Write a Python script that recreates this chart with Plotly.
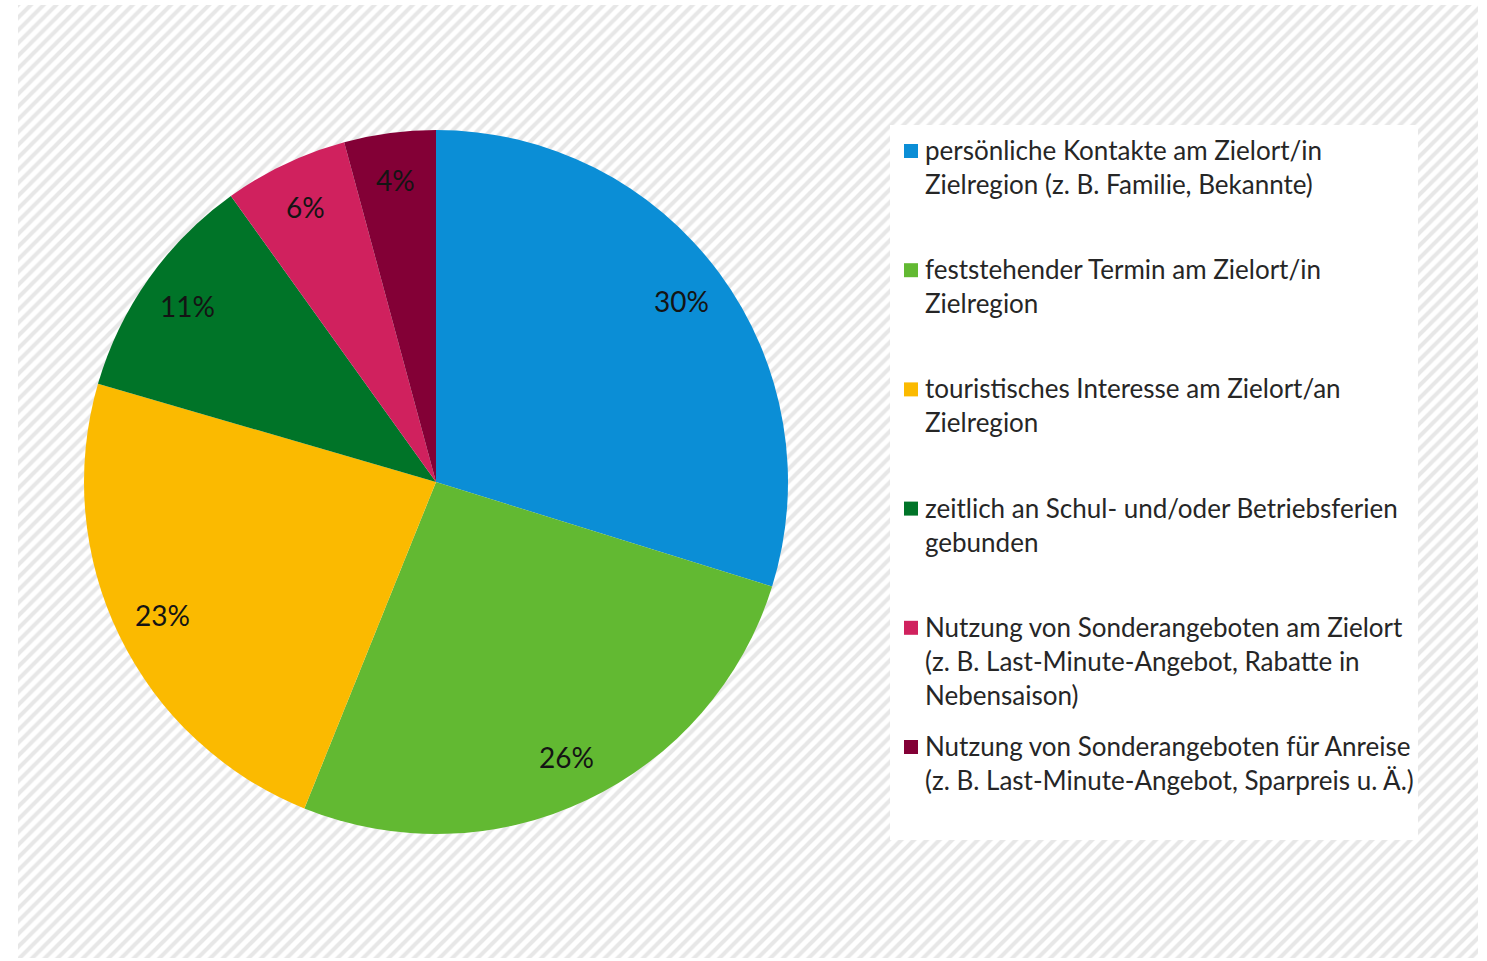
import math
import plotly.graph_objects as go

categories = [
    "persönliche Kontakte am Zielort/in<br>Zielregion (z. B. Familie, Bekannte)",
    "feststehender Termin am Zielort/in<br>Zielregion",
    "touristisches Interesse am Zielort/an<br>Zielregion",
    "zeitlich an Schul- und/oder Betriebsferien<br>gebunden",
    "Nutzung von Sonderangeboten am Zielort<br>(z. B. Last-Minute-Angebot, Rabatte in<br>Nebensaison)",
    "Nutzung von Sonderangeboten für Anreise<br>(z. B. Last-Minute-Angebot, Sparpreis u. Ä.)",
]
# shares (labels show them rounded)
values = [29.8, 26.3, 23.4, 10.6, 5.7, 4.2]
colors = ["#0B8ED6", "#62B932", "#FBBA00", "#007428", "#D0215E", "#830036"]

W, H = 1487, 961
L, R, T, B = 18, 1478, 5, 958  # hatched area in pixels
PW, PH = R - L, B - T

def px(x):
    return (x - L) / PW

def py(y):
    return (B - y) / PH

FONT = "Lato"

fig = go.Figure()

# hatched background
fig.add_trace(go.Bar(
    x=[0.5], y=[1], width=[1],
    marker=dict(color="white", line=dict(width=0),
                pattern=dict(shape="/", size=9, solidity=0.45,
                             fgcolor="#d0d0d0", bgcolor="white")),
    hoverinfo="skip", showlegend=False,
))

cx, cy, r = 436, 482, 352
fig.add_trace(go.Pie(
    labels=categories, values=values, sort=False, direction="clockwise", rotation=0,
    marker=dict(colors=colors, line=dict(width=0)),
    textinfo="none",
    domain=dict(x=[px(cx - r), px(cx + r)], y=[py(cy + r), py(cy - r)]),
    showlegend=False, hole=0, hoverinfo="label+percent",
))

annotations = []
# slice labels placed near the outer edge (Excel "best fit" style)
total = sum(values)
cum = 0.0
label_r = 0.865 * r
for v in values:
    mid = (cum + v / 2) / total * 2 * math.pi
    cum += v
    lx = cx + label_r * math.sin(mid)
    ly = cy - label_r * math.cos(mid)
    annotations.append(dict(xref="paper", yref="paper", x=px(lx), y=py(ly),
                            xanchor="center", yanchor="middle", showarrow=False,
                            text=f"{round(v / total * 100)}%",
                            font=dict(family=FONT, size=28, color="#141414")))

shapes = [dict(type="rect", xref="paper", yref="paper", layer="above",
               x0=px(890), x1=px(1418), y0=py(840), y1=py(125),
               fillcolor="white", line=dict(width=0))]
step = 119.2
for i, (cat, col) in enumerate(zip(categories, colors)):
    yc = 151 + step * i
    shapes.append(dict(type="rect", xref="paper", yref="paper", layer="above",
                       x0=px(904), x1=px(918), y0=py(yc + 7), y1=py(yc - 7),
                       fillcolor=col, line=dict(width=0)))
    annotations.append(dict(xref="paper", yref="paper", x=px(923), y=py(yc - 19),
                            xanchor="left", yanchor="top", align="left", showarrow=False,
                            text=cat, font=dict(family=FONT, size=26, color="#262626")))

fig.update_layout(
    width=W, height=H,
    margin=dict(l=L, r=W - R, t=T, b=H - B, pad=0),
    paper_bgcolor="white", plot_bgcolor="white",
    bargap=0,
    xaxis=dict(range=[0, 1], visible=False, fixedrange=True),
    yaxis=dict(range=[0, 1], visible=False, fixedrange=True),
    shapes=shapes, annotations=annotations,
    showlegend=False,
)

fig.write_html("out.html", config={"displayModeBar": False},
               post_script="document.body.style.margin='0';document.body.style.overflow='hidden';")
